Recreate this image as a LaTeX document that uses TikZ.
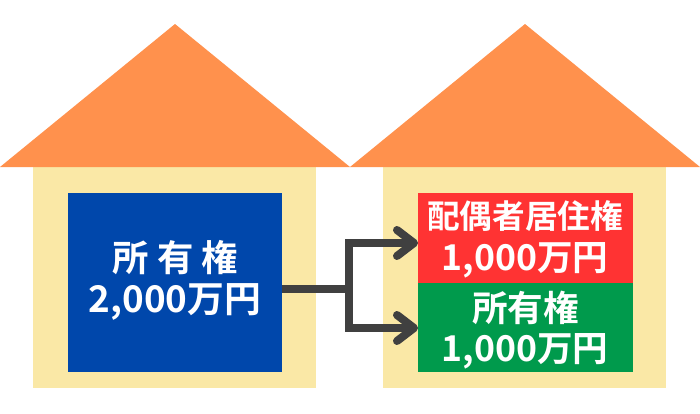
\documentclass[tikz,border=0pt]{standalone}
\usepackage{fontspec}
\setmainfont{Noto Sans CJK JP}[BoldFont={* Bold}]
\definecolor{roofc}{HTML}{FF914D}
\definecolor{wallc}{HTML}{FAE8A6}
\definecolor{bluec}{HTML}{0047AB}
\definecolor{redc}{HTML}{FF3333}
\definecolor{greenc}{HTML}{009A4C}
\definecolor{linec}{HTML}{404040}
\tikzset{
 px/.style={x=0.75pt,y=-0.75pt},
 lab/.style={text=white,font=\bfseries\fontsize{#1}{#1}\selectfont,inner sep=0pt,anchor=center},
 conn/.style={draw=linec,line width=6pt},
 head/.style={draw=linec,line width=6pt,line cap=round,line join=round}
}
\begin{document}
\begin{tikzpicture}[px]
\useasboundingbox (0,0) rectangle (700,414);
\fill[white] (0,0) rectangle (700,414);
\fill[wallc] (33,160) rectangle (316,388);
\fill[wallc] (383,160) rectangle (666,388);
\fill[roofc] (0,167) -- (175,24) -- (350,167) -- cycle;
\fill[roofc] (350,167) -- (525,24) -- (700,167) -- cycle;
\fill[bluec] (68,193) rectangle (282,372);
\fill[redc] (418,193) rectangle (633,283);
\fill[greenc] (418,283) rectangle (633,372);
\coordinate (bl) at (282,288.5);
\coordinate (j) at (349,288.5);
\coordinate (r) at (414,243);
\coordinate (g) at (414,328);
\node[lab=27.3pt] (a1) at (175.5,257.5) {所 有 権};
\node[lab=27.6pt] (a2) at (175,302) {2,000万円};
\node[lab=24.5pt] (b1) at (525,216) {配偶者居住権};
\node[lab=26.7pt] (b2) at (525,260) {1,000万円};
\node[lab=26.7pt] (c1) at (525.5,307.5) {所有権};
\node[lab=26.7pt] (c2) at (525,351) {1,000万円};
\draw[conn] (bl) -- (j);
\draw[conn,line join=miter] (r) -| (j) |- (g);
\draw[head] (397,230) -- (r) -- (397,256);
\draw[head] (397,315) -- (g) -- (397,341);
\end{tikzpicture}
\end{document}
